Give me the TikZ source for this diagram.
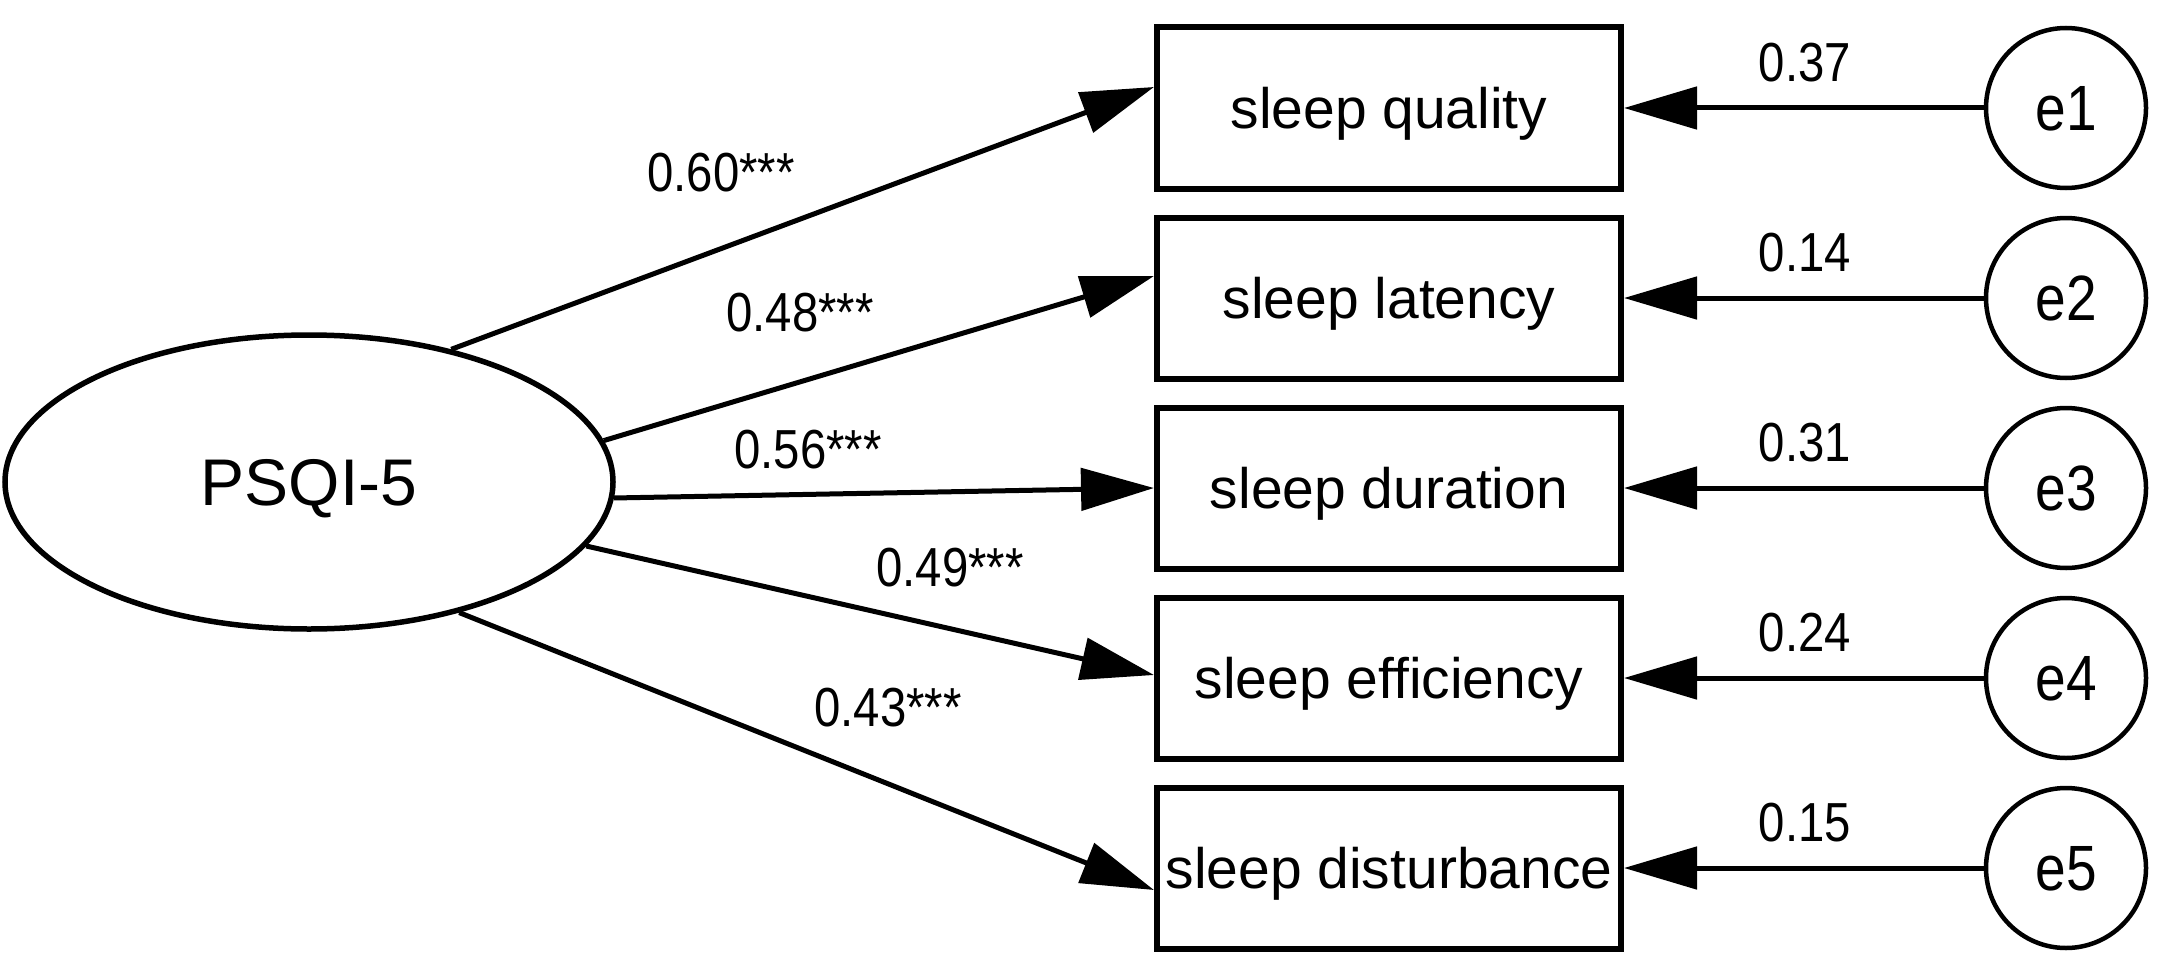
\documentclass[tikz,border=0pt]{standalone}
\usepackage{fontspec}
\setmainfont{Liberation Sans}
\newfontfamily\narrowfont[FakeStretch=0.86]{Liberation Sans}
\usetikzlibrary{arrows.meta,shapes.geometric}
\begin{document}
\begin{tikzpicture}[x=1pt,y=-1pt,
 latent/.style={ellipse, draw, line width=5.5pt, minimum width=608pt, minimum height=294pt, inner sep=0pt, font=\fontsize{66}{78}\selectfont, text height=47pt, text depth=0pt},
 obs/.style={rectangle, draw, line width=6pt, minimum width=464pt, minimum height=161pt, inner sep=0pt, font=\fontsize{57}{68}\selectfont, text height=40.8pt, text depth=0pt},
 err/.style={circle, draw, line width=4.5pt, minimum size=160pt, inner sep=0pt, font=\narrowfont\fontsize{64}{76}\selectfont, text height=45.8pt, text depth=0pt},
 coef/.style={inner sep=0pt, font=\narrowfont\fontsize{55}{66}\selectfont},
 loadarrow/.style={line width=5pt, -{Triangle[length=73pt,width=42pt]}},
]
\useasboundingbox (0,0) rectangle (2165,971);
\fill[white] (0,0) rectangle (2165,971);

\node[latent] (psqi) at (309,482) {PSQI-5};

\node[obs] (q)   at (1389,108) {sleep quality};
\node[obs] (lat) at (1389,298) {sleep latency};
\node[obs] (dur) at (1389,488) {sleep duration};
\node[obs] (eff) at (1389,678) {sleep efficiency};
\node[obs] (dis) at (1389,868) {sleep disturbance};

\node[err] (e1) at (2066,108) {e1};
\node[err] (e2) at (2066,298) {e2};
\node[err] (e3) at (2066,488) {e3};
\node[err] (e4) at (2066,678) {e4};
\node[err] (e5) at (2066,868) {e5};

\draw[loadarrow] (psqi.43.5) -- ([yshift=21pt]q.west);
\draw[loadarrow] (psqi.8.6) -- ([yshift=22pt]lat.west);
\draw[loadarrow] (psqi.-3.8) -- (dur.west);
\draw[loadarrow] (psqi.-13.2) -- ([yshift=3pt]eff.west);
\draw[loadarrow] (psqi.-41.7) -- ([yshift=-22pt]dis.west);

\draw[loadarrow] (e1.west) -- (q.east);
\draw[loadarrow] (e2.west) -- (lat.east);
\draw[loadarrow] (e3.west) -- (dur.east);
\draw[loadarrow] (e4.west) -- (eff.east);
\draw[loadarrow] (e5.west) -- (dis.east);

\node[coef] (c1) at (721,173) {0.60***};
\node[coef] (c2) at (800,313) {0.48***};
\node[coef] (c3) at (808,450) {0.56***};
\node[coef] (c4) at (950,568) {0.49***};
\node[coef] (c5) at (888,708) {0.43***};

\node[coef] (r1) at (1805,63) {0.37};
\node[coef] (r2) at (1805,253) {0.14};
\node[coef] (r3) at (1805,443) {0.31};
\node[coef] (r4) at (1805,633) {0.24};
\node[coef] (r5) at (1805,823) {0.15};
\end{tikzpicture}
\end{document}
